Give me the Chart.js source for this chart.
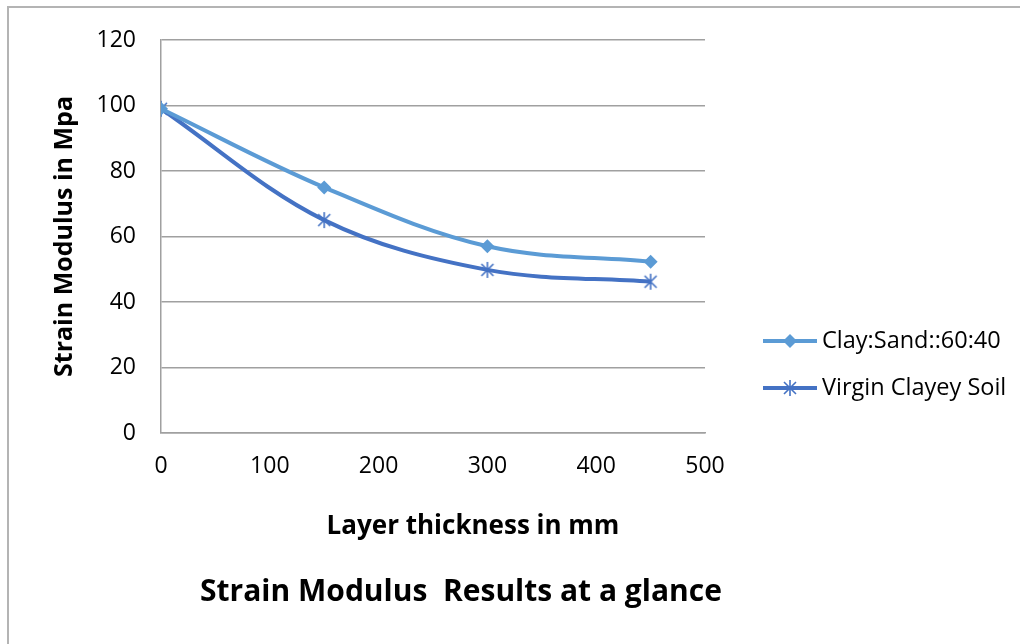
<!DOCTYPE html>
<html>
<head>
<meta charset="utf-8">
<script src="https://cdn.jsdelivr.net/npm/chart.js@4.4.1/dist/chart.umd.min.js"></script>
<style>
  html, body { margin: 0; padding: 0; background: #ffffff; overflow: hidden; }
  #frame { position: absolute; left: 7px; top: 6px; width: 1200px; height: 800px;
           border-left: 2px solid #b4b4b4; border-top: 2px solid #b4b4b4; }
  #wrap { position: absolute; left: 0; top: 0; width: 1020px; height: 644px; }
</style>
</head>
<body>
<div id="frame"></div>
<div id="wrap"><canvas id="strain-chart" width="1020" height="644"></canvas></div>
<script>
// values
const thickness = [0, 150, 300, 450];
const clay_sand = [99, 75, 57, 52.3];
const virgin_soil = [99, 65, 49.8, 46.2];
const series_names = ["Clay:Sand::60:40", "Virgin Clayey Soil"];
const y_ticks = [0, 20, 40, 60, 80, 100, 120];
const x_ticks = [0, 100, 200, 300, 400, 500];
const x_title = "Layer thickness in mm";
const chart_title = "Strain Modulus  Results at a glance";

const light_blue = "#5B9BD5";
const dark_blue = "#4472C4";
const font_name = "'Open Sans', 'Noto Sans', sans-serif";

// asterisk marker like the excel one
function makeStar(color) {
    let c = document.createElement("canvas");
    c.width = 18;
    c.height = 18;
    let g = c.getContext("2d");
    g.strokeStyle = color;
    g.lineWidth = 1.6;
    g.beginPath();
    g.moveTo(9, 1); g.lineTo(9, 17);
    g.moveTo(3, 3); g.lineTo(15, 15);
    g.moveTo(15, 3); g.lineTo(3, 15);
    g.stroke();
    return c;
}
let star_marker = makeStar(dark_blue);

let toPoints = (xs, ys) => xs.map((x, i) => ({x: x, y: ys[i]}));

// legend with line + marker on the right, plus the titles placed like in excel
const sideLegend = {
    id: "sideLegend",
    afterDraw(chart) {
        let ctx = chart.ctx;
        let area = chart.chartArea;
        let mid = (area.left + area.right) / 2;
        let x0 = area.right + 58;
        let rows = [341, 388];
        ctx.save();
        chart.data.datasets.forEach((ds, i) => {
            let y = rows[i];
            ctx.strokeStyle = ds.borderColor;
            ctx.lineWidth = 4;
            ctx.beginPath();
            ctx.moveTo(x0, y);
            ctx.lineTo(x0 + 54, y);
            ctx.stroke();
            let mx = x0 + 27;
            if (i == 0) {
                ctx.fillStyle = ds.borderColor;
                ctx.beginPath();
                ctx.moveTo(mx, y - 7);
                ctx.lineTo(mx + 7, y);
                ctx.lineTo(mx, y + 7);
                ctx.lineTo(mx - 7, y);
                ctx.closePath();
                ctx.fill();
            } else {
                ctx.drawImage(star_marker, mx - 9, y - 9);
            }
            ctx.fillStyle = "#000000";
            ctx.font = "23.5px " + font_name;
            ctx.textAlign = "left";
            ctx.textBaseline = "middle";
            ctx.fillText(ds.label, x0 + 59, y);
        });
        ctx.fillStyle = "#000000";
        ctx.textAlign = "center";
        ctx.textBaseline = "middle";
        // x axis title sits a bit right of centre in the original
        ctx.font = "bold 26px " + font_name;
        ctx.fillText(x_title, mid + 40, 527);
        // main title sits at the bottom
        ctx.font = "bold 30px " + font_name;
        ctx.fillText(chart_title, mid + 28, 592);
        ctx.restore();
    }
};

let data = {
    datasets: [{
        label: series_names[0],
        data: toPoints(thickness, clay_sand),
        borderColor: light_blue,
        backgroundColor: light_blue,
        borderWidth: 4,
        tension: 0.35,
        pointStyle: "rectRot",
        pointRadius: 7,
        pointHoverRadius: 7,
        pointBorderWidth: 0
    }, {
        label: series_names[1],
        data: toPoints(thickness, virgin_soil),
        borderColor: dark_blue,
        backgroundColor: dark_blue,
        borderWidth: 4,
        tension: 0.35,
        pointStyle: star_marker,
        pointRadius: 9
    }]
};

let config = {
    type: "line",
    data: data,
    options: {
        responsive: false,
        animation: false,
        layout: { padding: { top: 40, right: 315, bottom: 81, left: 0 } },
        plugins: {
            legend: { display: false },
            tooltip: { enabled: false }
        },
        scales: {
            x: {
                type: "linear",
                min: 0,
                max: 500,
                afterBuildTicks: (scale) => { scale.ticks = x_ticks.map(v => ({value: v})); },
                afterFit: (scale) => { scale.height = 130; },
                grid: { display: false, drawTicks: false },
                border: { display: true, color: "#a0a0a0", width: 1.5 },
                ticks: { padding: 20, color: "#000000", font: { family: font_name, size: 23 } },
                title: { display: false }
            },
            y: {
                min: 0,
                max: 120,
                afterBuildTicks: (scale) => { scale.ticks = y_ticks.map(v => ({value: v})); },
                afterFit: (scale) => { scale.width = 161; },
                grid: { color: "#a0a0a0", lineWidth: 1.5, drawTicks: false },
                border: { display: true, color: "#a0a0a0", width: 1.5 },
                ticks: { padding: 25, color: "#000000", font: { family: font_name, size: 23 } },
                title: {
                    display: true,
                    text: "Strain Modulus in Mpa",
                    color: "#000000",
                    font: { family: font_name, size: 25, weight: "bold" },
                    padding: { top: 50, bottom: 0 }
                }
            }
        }
    },
    plugins: [sideLegend]
};

let strain_chart = new Chart(document.getElementById("strain-chart"), config);
</script>
</body>
</html>
